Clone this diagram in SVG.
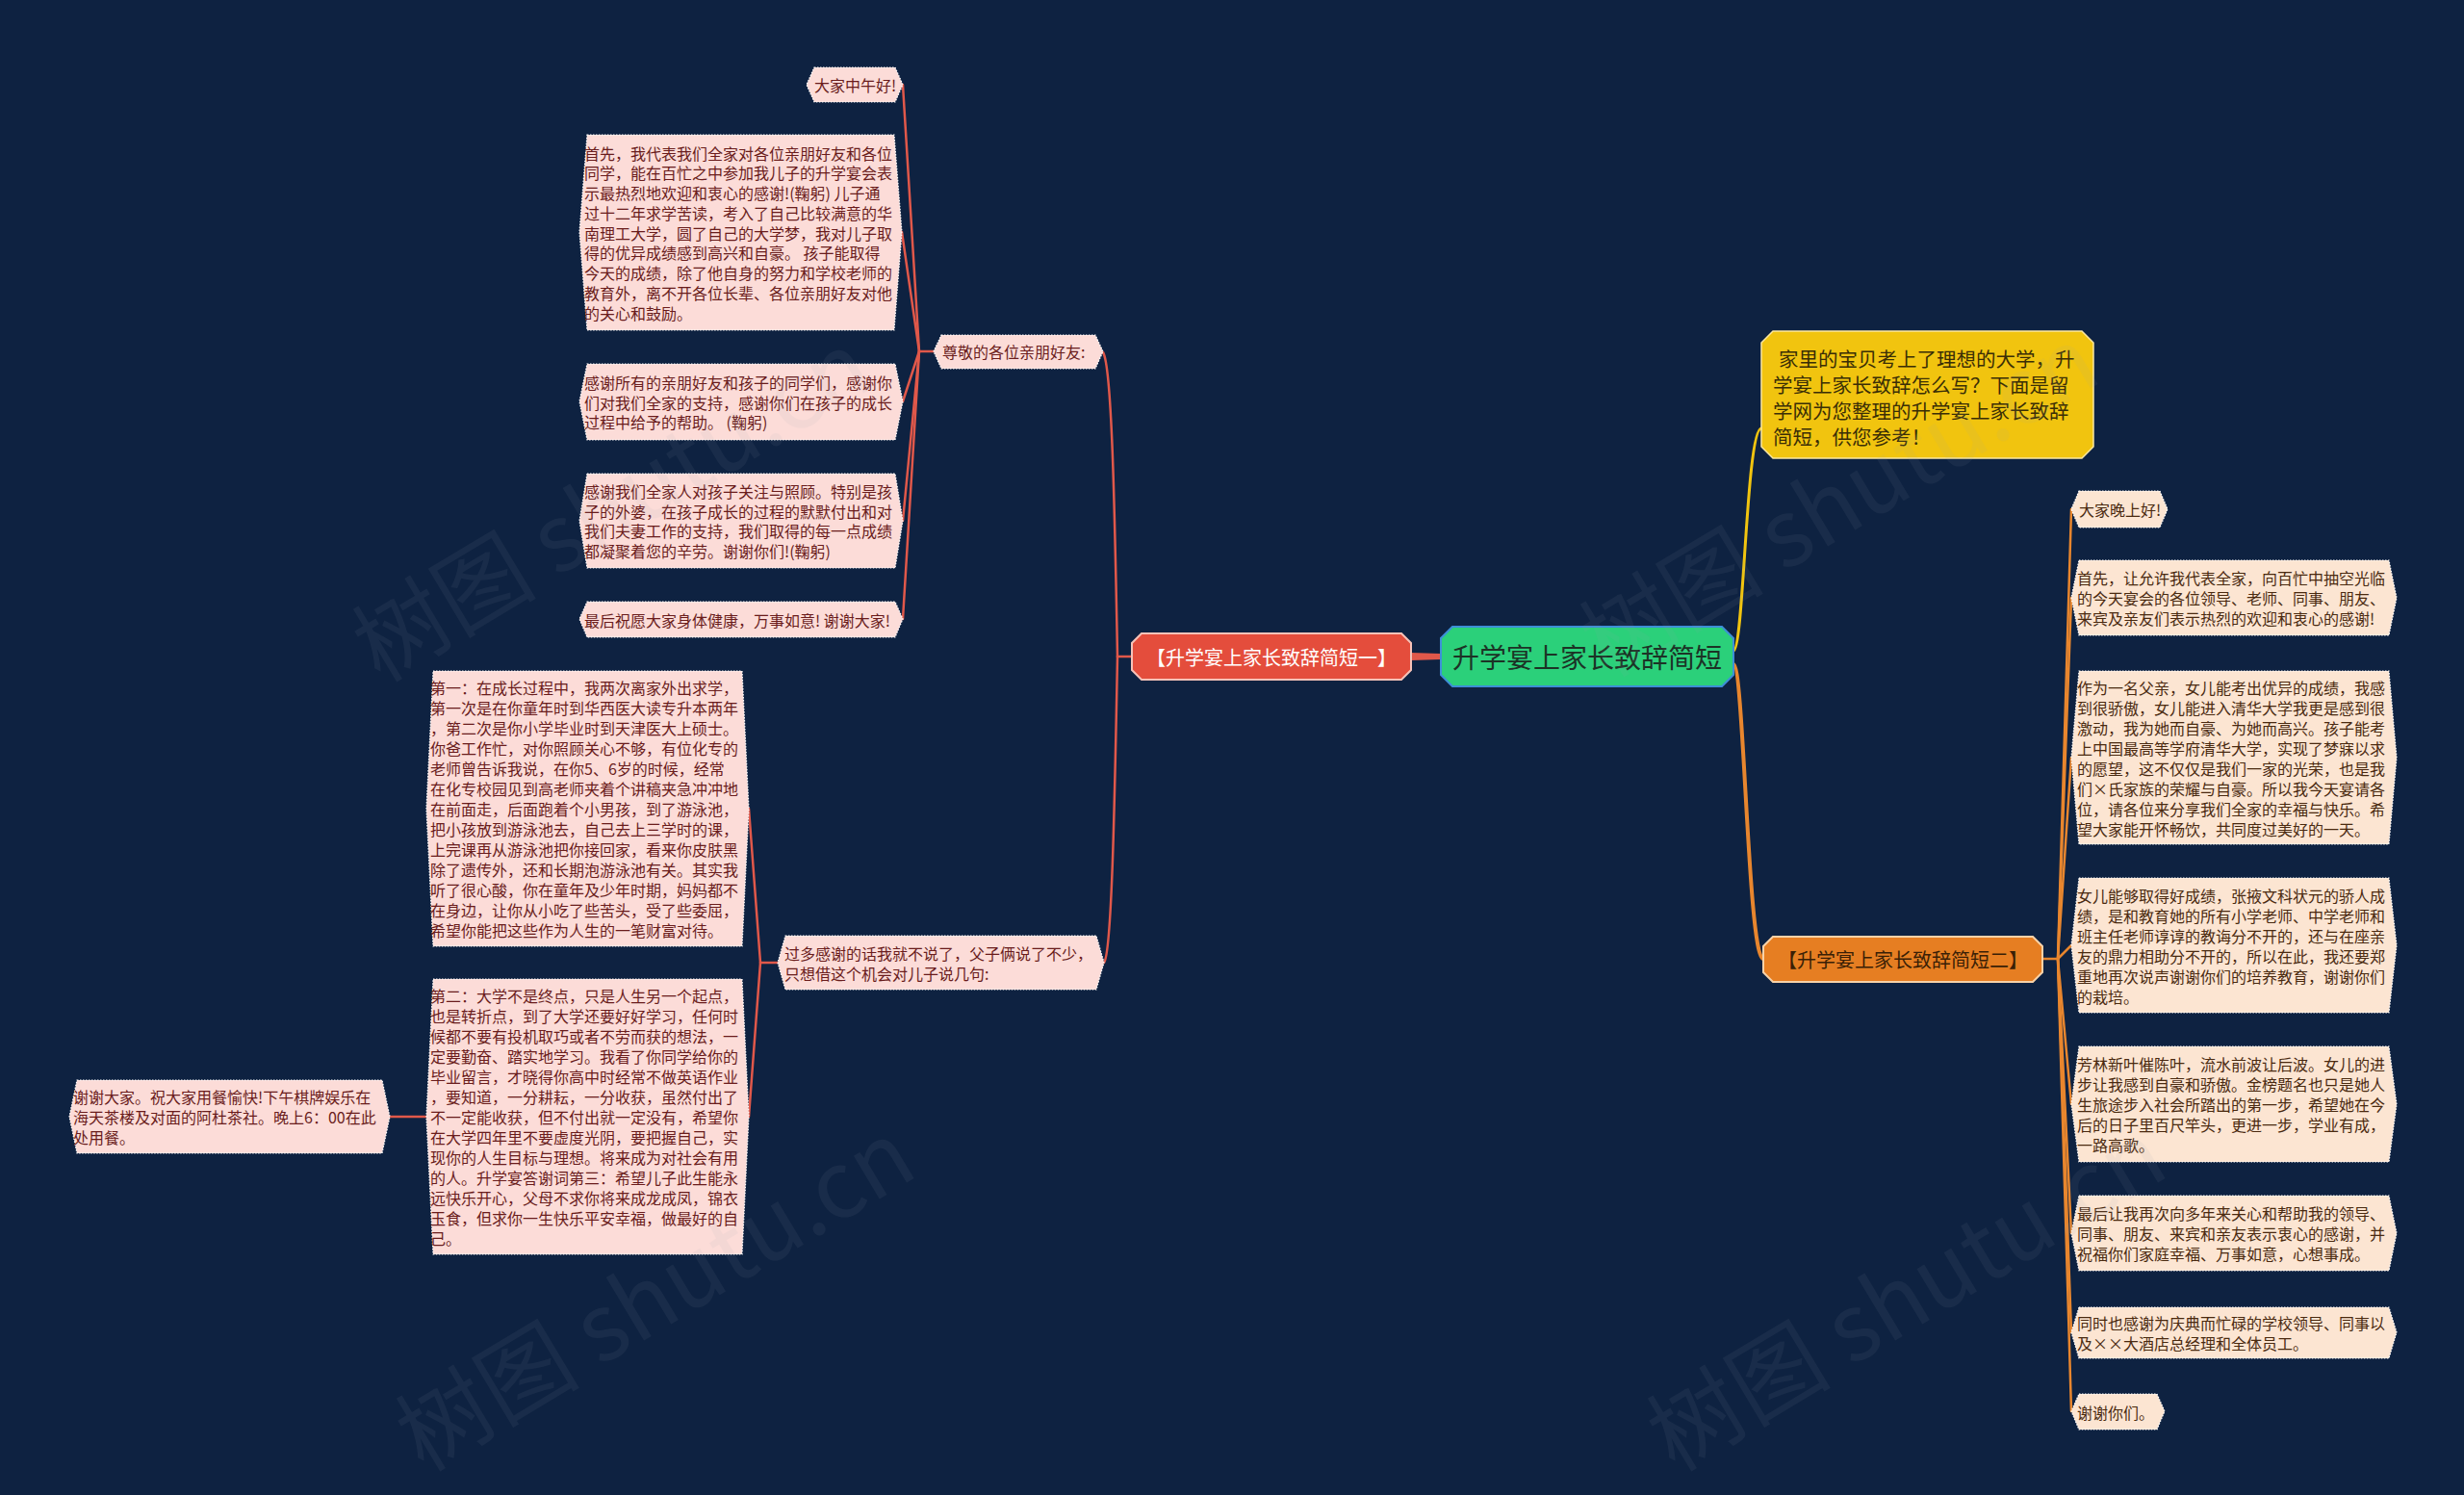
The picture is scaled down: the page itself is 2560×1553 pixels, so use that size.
<svg xmlns="http://www.w3.org/2000/svg" width="2560" height="1553" viewBox="0 0 2560 1553">
<style>
text{font-family:"Noto Sans CJK SC","Noto Sans",sans-serif;}
.leafL{fill:#fcdcd8;stroke:#ffffff;stroke-width:1.2;stroke-dasharray:1.5 1.5;}
.leafR{fill:#fce5d2;stroke:#ffffff;stroke-width:1.2;stroke-dasharray:1.5 1.5;}
.tL{font-size:16px;fill:#6a1c1c;dominant-baseline:central;}
.tR{font-size:16px;fill:#4a2a10;dominant-baseline:central;}
.cl{stroke:#e0584a;fill:none;stroke-width:2.5;stroke-linecap:round;}
.co{stroke:#e8862e;fill:none;stroke-width:2.5;stroke-linecap:round;}
.wm{font-size:96px;fill:#9aa3b0;opacity:0.08;}
</style>
<rect width="2560" height="1553" fill="#0e2241"/>

<g id="connectors">
  <path d="M1497 679 L1466 678 L1466 686 L1497 685 Z" fill="#e0584a"/>
  <path d="M1801 676 C1812 676 1814 445 1830 445" stroke="#f1c40f" stroke-width="3" fill="none"/>
  <path d="M1801 690 C1812 690 1816 996 1832 996" stroke="#e8862e" stroke-width="4" fill="none"/>
  <path class="cl" d="M1176 682 L1161 682"/>
  <path class="cl" d="M1161 682 C1158 520 1155 380 1146 366"/>
  <path class="cl" d="M1161 682 C1158 840 1155 990 1147 1000"/>
  <path class="cl" d="M970 365 L955 365"/>
  <path class="cl" d="M955 365 L938 88"/>
  <path class="cl" d="M955 365 L937 241"/>
  <path class="cl" d="M955 365 L938 417"/>
  <path class="cl" d="M955 365 L938 541"/>
  <path class="cl" d="M955 365 L938 643"/>
  <path class="cl" d="M808 1000 L790 1000"/>
  <path class="cl" d="M790 1000 L778 840"/>
  <path class="cl" d="M790 1000 L778 1160"/>
  <path class="cl" d="M443 1160 L405 1160"/>
  <path class="co" d="M2122 996 L2138 996"/>
  <path class="co" d="M2138 996 L2152 529"/>
  <path class="co" d="M2138 996 L2152 621"/>
  <path class="co" d="M2138 996 L2152 787"/>
  <path class="co" d="M2138 996 L2152 982"/>
  <path class="co" d="M2138 996 L2152 1147"/>
  <path class="co" d="M2138 996 L2152 1281"/>
  <path class="co" d="M2138 996 L2152 1384"/>
  <path class="co" d="M2138 996 L2152 1466"/>
</g>

<g id="root">
  <polygon points="1509,651 1789,651 1801,663 1801,701 1789,713 1509,713 1497,701 1497,663" fill="#2bd07a" stroke="#3d8fd6" stroke-width="2"/>
  <text x="1649" y="682" text-anchor="middle" dominant-baseline="central" font-size="28" fill="#1c3326">升学宴上家长致辞简短</text>
</g>

<g id="intro">
  <polygon points="1842,344 2163,344 2175,356 2175,464 2163,476 1842,476 1830,464 1830,356" fill="#f1c40f" stroke="#fbe7a0" stroke-width="1.5"/>
  <text font-size="20.5" fill="#3a2e06" dominant-baseline="central">
    <tspan x="1848" y="372">家里的宝贝考上了理想的大学，升</tspan>
    <tspan x="1842" y="399">学宴上家长致辞怎么写？下面是留</tspan>
    <tspan x="1842" y="426">学网为您整理的升学宴上家长致辞</tspan>
    <tspan x="1842" y="453">简短，供您参考！</tspan>
  </text>
</g>

<g id="branch1">
  <polygon points="1186,658 1456,658 1466,668 1466,696 1456,706 1186,706 1176,696 1176,668" fill="#e44d3c" stroke="#f6c2b8" stroke-width="2"/>
  <text x="1321" y="682" text-anchor="middle" dominant-baseline="central" font-size="20" fill="#ffffff">【升学宴上家长致辞简短一】</text>
</g>

<g id="branch2">
  <polygon points="1842,973 2112,973 2122,983 2122,1010 2112,1020 1842,1020 1832,1010 1832,983" fill="#e67e22" stroke="#f7d2a8" stroke-width="2"/>
  <text x="1977" y="996" text-anchor="middle" dominant-baseline="central" font-size="20" fill="#3a1f06">【升学宴上家长致辞简短二】</text>
</g>

<g id="sub1">
  <polygon class="leafL" points="978,348 1138,348 1146,365 1138,383 978,383 970,365"/>
  <text class="tL" x="979" y="365">尊敬的各位亲朋好友:</text>
</g>

<g id="sub2">
  <polygon class="leafL" points="816,972 1139,972 1147,1000 1139,1028 816,1028 808,1000"/>
  <text class="tL"><tspan x="815" y="990">过多感谢的话我就不说了，父子俩说了不少，</tspan><tspan x="815" y="1011">只想借这个机会对儿子说几句:</tspan></text>
</g>

<g id="l1">
  <polygon class="leafL" points="846,70 930,70 938,88 930,106 846,106 838,88"/>
  <text class="tL" x="846" y="88">大家中午好!</text>
</g>

<g id="l2">
  <polygon class="leafL" points="610,140 929,140 937,241 929,343 610,343 602,241"/>
  <text class="tL">
    <tspan x="607" y="158.5">首先，我代表我们全家对各位亲朋好友和各位</tspan>
    <tspan x="607" y="179.25">同学，能在百忙之中参加我儿子的升学宴会表</tspan>
    <tspan x="607" y="200">示最热烈地欢迎和衷心的感谢!(鞠躬) 儿子通</tspan>
    <tspan x="607" y="220.75">过十二年求学苦读，考入了自己比较满意的华</tspan>
    <tspan x="607" y="241.5">南理工大学，圆了自己的大学梦，我对儿子取</tspan>
    <tspan x="607" y="262.25">得的优异成绩感到高兴和自豪。 孩子能取得</tspan>
    <tspan x="607" y="283">今天的成绩，除了他自身的努力和学校老师的</tspan>
    <tspan x="607" y="303.75">教育外，离不开各位长辈、各位亲朋好友对他</tspan>
    <tspan x="607" y="324.5">的关心和鼓励。</tspan>
  </text>
</g>

<g id="l3">
  <polygon class="leafL" points="610,378 930,378 938,417 930,457 610,457 602,417"/>
  <text class="tL">
    <tspan x="607" y="397">感谢所有的亲朋好友和孩子的同学们，感谢你</tspan>
    <tspan x="607" y="417.5">们对我们全家的支持，感谢你们在孩子的成长</tspan>
    <tspan x="607" y="438">过程中给予的帮助。 (鞠躬)</tspan>
  </text>
</g>

<g id="l4">
  <polygon class="leafL" points="610,492 930,492 938,541 930,590 610,590 602,541"/>
  <text class="tL">
    <tspan x="607" y="510">感谢我们全家人对孩子关注与照顾。特别是孩</tspan>
    <tspan x="607" y="530.7">子的外婆，在孩子成长的过程的默默付出和对</tspan>
    <tspan x="607" y="551.4">我们夫妻工作的支持，我们取得的每一点成绩</tspan>
    <tspan x="607" y="572.1">都凝聚着您的辛劳。谢谢你们!(鞠躬)</tspan>
  </text>
</g>

<g id="l5">
  <polygon class="leafL" points="610,625 930,625 938,643 930,662 610,662 602,643"/>
  <text class="tL" x="607" y="643.5">最后祝愿大家身体健康，万事如意! 谢谢大家!</text>
</g>

<g id="l6">
  <polygon class="leafL" points="450,697 771,697 778,840 771,983 450,983 443,840"/>
  <text class="tL">
    <tspan x="447" y="714">第一：在成长过程中，我两次离家外出求学，</tspan>
    <tspan x="447" y="735">第一次是在你童年时到华西医大读专升本两年</tspan>
    <tspan x="447" y="756">，第二次是你小学毕业时到天津医大上硕士。</tspan>
    <tspan x="447" y="777">你爸工作忙，对你照顾关心不够，有位化专的</tspan>
    <tspan x="447" y="798">老师曾告诉我说，在你5、6岁的时候，经常</tspan>
    <tspan x="447" y="819">在化专校园见到高老师夹着个讲稿夹急冲冲地</tspan>
    <tspan x="447" y="840">在前面走，后面跑着个小男孩，到了游泳池，</tspan>
    <tspan x="447" y="861">把小孩放到游泳池去，自己去上三学时的课，</tspan>
    <tspan x="447" y="882">上完课再从游泳池把你接回家，看来你皮肤黑</tspan>
    <tspan x="447" y="903">除了遗传外，还和长期泡游泳池有关。其实我</tspan>
    <tspan x="447" y="924">听了很心酸，你在童年及少年时期，妈妈都不</tspan>
    <tspan x="447" y="945">在身边，让你从小吃了些苦头，受了些委屈，</tspan>
    <tspan x="447" y="966">希望你能把这些作为人生的一笔财富对待。</tspan>
  </text>
</g>

<g id="l7">
  <polygon class="leafL" points="450,1017 771,1017 778,1160 771,1303 450,1303 443,1160"/>
  <text class="tL">
    <tspan x="447" y="1034">第二：大学不是终点，只是人生另一个起点，</tspan>
    <tspan x="447" y="1055">也是转折点，到了大学还要好好学习，任何时</tspan>
    <tspan x="447" y="1076">候都不要有投机取巧或者不劳而获的想法，一</tspan>
    <tspan x="447" y="1097">定要勤奋、踏实地学习。我看了你同学给你的</tspan>
    <tspan x="447" y="1118">毕业留言，才晓得你高中时经常不做英语作业</tspan>
    <tspan x="447" y="1139">，要知道，一分耕耘，一分收获，虽然付出了</tspan>
    <tspan x="447" y="1160">不一定能收获，但不付出就一定没有，希望你</tspan>
    <tspan x="447" y="1181">在大学四年里不要虚度光阴，要把握自己，实</tspan>
    <tspan x="447" y="1202">现你的人生目标与理想。将来成为对社会有用</tspan>
    <tspan x="447" y="1223">的人。升学宴答谢词第三：希望儿子此生能永</tspan>
    <tspan x="447" y="1244">远快乐开心，父母不求你将来成龙成凤，锦衣</tspan>
    <tspan x="447" y="1265">玉食，但求你一生快乐平安幸福，做最好的自</tspan>
    <tspan x="447" y="1286">己。</tspan>
  </text>
</g>

<g id="l8">
  <polygon class="leafL" points="80,1122 397,1122 405,1160 397,1198 80,1198 72,1160"/>
  <text class="tL">
    <tspan x="76" y="1139">谢谢大家。祝大家用餐愉快!下午棋牌娱乐在</tspan>
    <tspan x="76" y="1160">海天茶楼及对面的阿杜茶社。晚上6：00在此</tspan>
    <tspan x="76" y="1181">处用餐。</tspan>
  </text>
</g>

<g id="r1">
  <polygon class="leafR" points="2160,510 2244,510 2252,529 2244,548 2160,548 2152,529"/>
  <text class="tR" x="2160" y="529">大家晚上好!</text>
</g>

<g id="r2">
  <polygon class="leafR" points="2160,582 2482,582 2490,621 2482,660 2160,660 2152,621"/>
  <text class="tR">
    <tspan x="2158" y="600">首先，让允许我代表全家，向百忙中抽空光临</tspan>
    <tspan x="2158" y="621">的今天宴会的各位领导、老师、同事、朋友、</tspan>
    <tspan x="2158" y="642">来宾及亲友们表示热烈的欢迎和衷心的感谢!</tspan>
  </text>
</g>

<g id="r3">
  <polygon class="leafR" points="2160,697 2482,697 2490,787 2482,877 2160,877 2152,787"/>
  <text class="tR">
    <tspan x="2158" y="713.5">作为一名父亲，女儿能考出优异的成绩，我感</tspan>
    <tspan x="2158" y="734.5">到很骄傲，女儿能进入清华大学我更是感到很</tspan>
    <tspan x="2158" y="755.5">激动，我为她而自豪、为她而高兴。孩子能考</tspan>
    <tspan x="2158" y="776.5">上中国最高等学府清华大学，实现了梦寐以求</tspan>
    <tspan x="2158" y="797.5">的愿望，这不仅仅是我们一家的光荣，也是我</tspan>
    <tspan x="2158" y="818.5">们×氏家族的荣耀与自豪。所以我今天宴请各</tspan>
    <tspan x="2158" y="839.5">位，请各位来分享我们全家的幸福与快乐。希</tspan>
    <tspan x="2158" y="860.5">望大家能开怀畅饮，共同度过美好的一天。</tspan>
  </text>
</g>

<g id="r4">
  <polygon class="leafR" points="2160,912 2482,912 2490,982 2482,1052 2160,1052 2152,982"/>
  <text class="tR">
    <tspan x="2158" y="929.5">女儿能够取得好成绩，张掖文科状元的骄人成</tspan>
    <tspan x="2158" y="950.5">绩，是和教育她的所有小学老师、中学老师和</tspan>
    <tspan x="2158" y="971.5">班主任老师谆谆的教诲分不开的，还与在座亲</tspan>
    <tspan x="2158" y="992.5">友的鼎力相助分不开的，所以在此，我还要郑</tspan>
    <tspan x="2158" y="1013.5">重地再次说声谢谢你们的培养教育，谢谢你们</tspan>
    <tspan x="2158" y="1034.5">的栽培。</tspan>
  </text>
</g>

<g id="r5">
  <polygon class="leafR" points="2160,1087 2482,1087 2490,1147 2482,1207 2160,1207 2152,1147"/>
  <text class="tR">
    <tspan x="2158" y="1105">芳林新叶催陈叶，流水前波让后波。女儿的进</tspan>
    <tspan x="2158" y="1126">步让我感到自豪和骄傲。金榜题名也只是她人</tspan>
    <tspan x="2158" y="1147">生旅途步入社会所踏出的第一步，希望她在今</tspan>
    <tspan x="2158" y="1168">后的日子里百尺竿头，更进一步，学业有成，</tspan>
    <tspan x="2158" y="1189">一路高歌。</tspan>
  </text>
</g>

<g id="r6">
  <polygon class="leafR" points="2160,1242 2482,1242 2490,1281 2482,1320 2160,1320 2152,1281"/>
  <text class="tR">
    <tspan x="2158" y="1260">最后让我再次向多年来关心和帮助我的领导、</tspan>
    <tspan x="2158" y="1281">同事、朋友、来宾和亲友表示衷心的感谢，并</tspan>
    <tspan x="2158" y="1302">祝福你们家庭幸福、万事如意，心想事成。</tspan>
  </text>
</g>

<g id="r7">
  <polygon class="leafR" points="2160,1358 2482,1358 2490,1384 2482,1411 2160,1411 2152,1384"/>
  <text class="tR">
    <tspan x="2158" y="1374">同时也感谢为庆典而忙碌的学校领导、同事以</tspan>
    <tspan x="2158" y="1395">及××大酒店总经理和全体员工。</tspan>
  </text>
</g>

<g id="r8">
  <polygon class="leafR" points="2160,1448 2241,1448 2249,1466 2241,1485 2160,1485 2152,1466"/>
  <text class="tR" x="2158" y="1466.5">谢谢你们。</text>
</g>

<g id="watermarks">
  <text class="wm" transform="translate(395,710) rotate(-31)">树图 shutu.cn</text>
  <text class="wm" transform="translate(1670,705) rotate(-31)">树图 shutu.cn</text>
  <text class="wm" transform="translate(440,1530) rotate(-31)">树图 shutu.cn</text>
  <text class="wm" transform="translate(1740,1530) rotate(-31)">树图 shutu.cn</text>
</g>
</svg>
